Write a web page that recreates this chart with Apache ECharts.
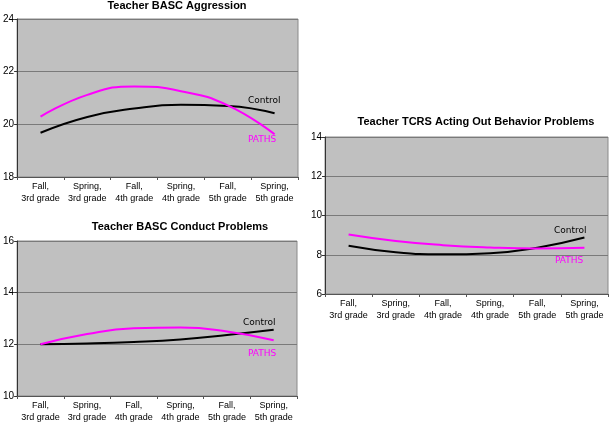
<!DOCTYPE html>
<html>
<head>
<meta charset="utf-8">
<script src="https://cdn.jsdelivr.net/npm/echarts@6/dist/echarts.min.js"></script>
<style>
html,body{margin:0;padding:0;background:#fff;}
#c{width:609px;height:424px;}
</style>
</head>
<body>
<div id="c"></div>
<script>
// ---- data ----
var categories = ['Fall,\n3rd grade','Spring,\n3rd grade','Fall,\n4th grade','Spring,\n4th grade','Fall,\n5th grade','Spring,\n5th grade'];

var titles = ['Teacher BASC Aggression','Teacher BASC Conduct Problems','Teacher TCRS Acting Out Behavior Problems'];

var aggressionControl = [19.68, 20.28, 20.60, 20.74, 20.70, 20.42];
var aggressionPATHS   = [20.29, 21.12, 21.44, 21.26, 20.72, 19.62];

var conductControl = [12.00, 12.03, 12.09, 12.19, 12.36, 12.56];
var conductPATHS   = [12.00, 12.40, 12.62, 12.65, 12.50, 12.16];

var tcrsControl = [8.46, 8.13, 8.02, 8.08, 8.36, 8.88];
var tcrsPATHS   = [9.03, 8.70, 8.49, 8.37, 8.32, 8.36];

var yRanges = [[18,24,2],[10,16,2],[6,14,2]];

// ---- chart ----
var FONT = 'Liberation Sans, Arial, sans-serif';
var chart = echarts.init(document.getElementById('c'), null, {renderer:'canvas'});

var grids = [
  {left:15, top:19, width:283, height:158},
  {left:15, top:241, width:282, height:158},
  {left:325, top:137, width:283, height:157}
];

function xAxis(i){
  return {
    type:'category', gridIndex:i, data:categories, boundaryGap:true,
    axisLine:{show:true, lineStyle:{color:'#555', width:1}},
    axisTick:{show:true, length:3, lineStyle:{color:'#555'}},
    axisLabel:{color:'#000', fontFamily:FONT, fontSize:9, lineHeight:12, margin:4, interval:0}
  };
}
function yAxis(i){
  var r = yRanges[i];
  return {
    type:'value', gridIndex:i, min:r[0], max:r[1], interval:r[2],
    axisLine:{show:true, lineStyle:{color:'#333', width:1}},
    axisTick:{show:true, length:3, lineStyle:{color:'#333'}},
    axisLabel:{color:'#000', fontFamily:FONT, fontSize:10, margin:3},
    splitLine:{show:true, lineStyle:{color:'#7a7a7a', width:1}}
  };
}

var seriesData = [[aggressionControl, aggressionPATHS],[conductControl, conductPATHS],[tcrsControl, tcrsPATHS]];
var series = [];
seriesData.forEach(function(pair, i){
  series.push({type:'line', name:'Control', xAxisIndex:i, yAxisIndex:i, data:pair[0], smooth:0.5,
    symbol:'none', lineStyle:{color:'#000', width:2}, z:3});
  series.push({type:'line', name:'PATHS', xAxisIndex:i, yAxisIndex:i, data:pair[1], smooth:0.5,
    symbol:'none', lineStyle:{color:'#ff00ff', width:2}, z:4});
});

var titleStyle = {fontFamily:FONT, fontSize:11, fontWeight:'bold', color:'#000'};

var labelStyle = function(txt, color){ return {text:txt, fill:color, font:'9px Verdana, DejaVu Sans, sans-serif'}; };

chart.setOption({
  animation:false,
  backgroundColor:'#fff',
  title:[
    {text:titles[0], left:177, top:0, padding:0, textAlign:'center', textStyle:titleStyle},
    {text:titles[1], left:180, top:221, padding:0, textAlign:'center', textStyle:titleStyle},
    {text:titles[2], left:476, top:116, padding:0, textAlign:'center', textStyle:titleStyle}
  ],
  grid: grids.map(function(g){ return Object.assign({show:true, backgroundColor:'#c0c0c0', borderColor:'#8a8a8a', borderWidth:1}, g); }),
  xAxis:[xAxis(0), xAxis(1), xAxis(2)],
  yAxis:[yAxis(0), yAxis(1), yAxis(2)],
  series:series,
  graphic:[
    {type:'text', left:248, top:96, style:labelStyle('Control','#000')},
    {type:'text', left:248, top:135, style:labelStyle('PATHS','#ff00ff')},
    {type:'text', left:243, top:318, style:labelStyle('Control','#000')},
    {type:'text', left:248, top:349, style:labelStyle('PATHS','#ff00ff')},
    {type:'text', left:554, top:226, style:labelStyle('Control','#000')},
    {type:'text', left:555, top:256, style:labelStyle('PATHS','#ff00ff')}
  ]
});
</script>
</body>
</html>
